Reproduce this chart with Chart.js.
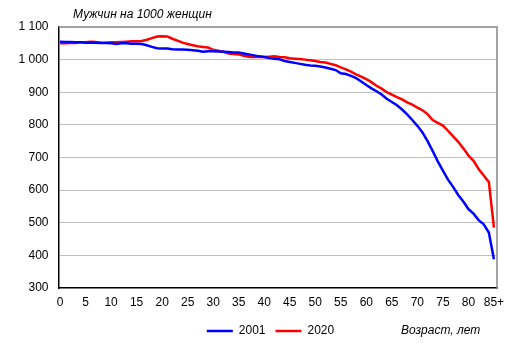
<!DOCTYPE html>
<html>
<head>
<meta charset="utf-8">
<script src="https://cdn.jsdelivr.net/npm/chart.js@4.4.1/dist/chart.umd.min.js"></script>
<style>
html,body{margin:0;padding:0;background:#fff;}
#wrap{width:513px;height:355px;position:relative;}
</style>
</head>
<body>
<div id="wrap"><canvas id="c" width="513" height="355"></canvas></div>
<script>
const ages = [0,1,2,3,4,5,6,7,8,9,10,11,12,13,14,15,16,17,18,19,20,21,22,23,24,25,26,27,28,29,30,31,32,33,34,35,36,37,38,39,40,41,42,43,44,45,46,47,48,49,50,51,52,53,54,55,56,57,58,59,60,61,62,63,64,65,66,67,68,69,70,71,72,73,74,75,76,77,78,79,80,81,82,83,84,85];
const xTickValues = [0,5,10,15,20,25,30,35,40,45,50,55,60,65,70,75,80,85];
const xTickLabels = ["0","5","10","15","20","25","30","35","40","45","50","55","60","65","70","75","80","85+"];
const yTickValues = [300,400,500,600,700,800,900,1000,1100];
const yTickLabels = ["300","400","500","600","700","800","900","1 000","1 100"];
const seriesNames = ["2001","2020"];
const values2001 = [1055,1054,1054,1053,1053,1052,1052,1052,1051,1051,1050,1048,1050,1050,1049,1049,1048,1044,1039,1035,1034,1034,1032,1031,1031,1030,1029,1027,1024,1026,1026,1025,1024,1023,1022,1022,1019,1016,1013,1010,1008,1005,1003,1001,996,993,990,987,984,982,981,979,976,972,968,958,956,950,943,933,922,912,903,893,880,870,860,847,832,815,797,777,750,720,688,660,632,610,585,565,542,528,508,495,470,388];
const values2020 = [1050,1050,1051,1051,1053,1053,1055,1054,1052,1052,1053,1053,1054,1055,1056,1056,1057,1061,1066,1071,1072,1071,1064,1058,1052,1048,1044,1041,1039,1037,1030,1027,1024,1019,1017,1016,1012,1009,1008,1008,1008,1009,1010,1008,1007,1004,1003,1002,1000,998,996,993,991,987,983,976,970,963,955,948,940,931,920,911,900,893,885,878,869,862,853,845,833,815,806,798,782,765,748,728,706,690,665,645,625,485];
const chartTitle = "Мужчин на 1000 женщин";
const xTitle = "Возраст, лет";

const FONT = "'Liberation Sans', Arial, sans-serif";

const toPoints = vals => ages.map((a, i) => ({x: a, y: vals[i]}));

const decor = {
  id: 'decor',
  afterLayout(chart) {
    const lg = chart.legend;
    if (lg) { lg.left += 22; lg.right += 22; }
  },
  beforeDatasetsDraw(chart) {
    const {ctx, chartArea: a} = chart;
    ctx.save();
    ctx.strokeStyle = '#888888';
    ctx.lineWidth = 1.5;
    ctx.beginPath();
    ctx.moveTo(a.left, a.top);
    ctx.lineTo(a.right, a.top);
    ctx.lineTo(a.right, a.bottom);
    ctx.stroke();
    ctx.restore();
  },
  afterDraw(chart) {
    const {ctx} = chart;
    ctx.save();
    ctx.fillStyle = '#000';
    ctx.font = "italic 12px " + FONT;
    ctx.textBaseline = 'middle';
    ctx.textAlign = 'left';
    ctx.fillText(chartTitle, 73, 15);
    ctx.fillText(xTitle, 401, 331);
    ctx.restore();
  }
};

new Chart(document.getElementById('c'), {
  type: 'line',
  data: {
    datasets: [
      {label: seriesNames[0], data: toPoints(values2001), borderColor: '#0000ff', backgroundColor: '#0000ff', borderWidth: 2.5, pointRadius: 0, tension: 0},
      {label: seriesNames[1], data: toPoints(values2020), borderColor: '#ff0000', backgroundColor: '#ff0000', borderWidth: 2.5, pointRadius: 0, tension: 0}
    ]
  },
  options: {
    responsive: false,
    animation: false,
    events: [],
    layout: {padding: {left: 0, right: 16, top: 27, bottom: 8}},
    plugins: {
      title: {display: false},
      tooltip: {enabled: false},
      legend: {
        position: 'bottom',
        align: 'center',
        labels: {
          usePointStyle: true,
          pointStyle: 'line',
          pointStyleWidth: 26,
          padding: 10,
          color: '#000',
          font: {family: FONT, size: 12}
        }
      }
    },
    scales: {
      x: {
        type: 'linear',
        min: -0.3,
        max: 85.6,
        afterBuildTicks(scale) { scale.ticks = xTickValues.map(v => ({value: v})); },
        afterFit(scale) { scale.height = 27; },
        grid: {display: false, drawTicks: false},
        border: {display: true, color: '#000', width: 1.5},
        ticks: {
          autoSkip: false,
          maxRotation: 0,
          padding: 7,
          color: '#000',
          font: {family: FONT, size: 12},
          callback: (v) => { const i = xTickValues.indexOf(v); return i >= 0 ? xTickLabels[i] : ''; }
        }
      },
      y: {
        min: 300,
        max: 1100,
        afterBuildTicks(scale) { scale.ticks = yTickValues.map(v => ({value: v})); },
        afterFit(scale) { scale.width = 58.5; },
        grid: {
          drawTicks: false,
          color: (c) => (c.tick && (c.tick.value === 1100 || c.tick.value === 300)) ? 'rgba(0,0,0,0)' : '#c0c0c0',
          lineWidth: 1
        },
        border: {display: true, color: '#000', width: 1.5},
        ticks: {
          padding: 10,
          color: '#000',
          font: {family: FONT, size: 12},
          callback: (v) => { const i = yTickValues.indexOf(v); return i >= 0 ? yTickLabels[i] : ''; }
        }
      }
    }
  },
  plugins: [decor]
});
</script>
</body>
</html>
